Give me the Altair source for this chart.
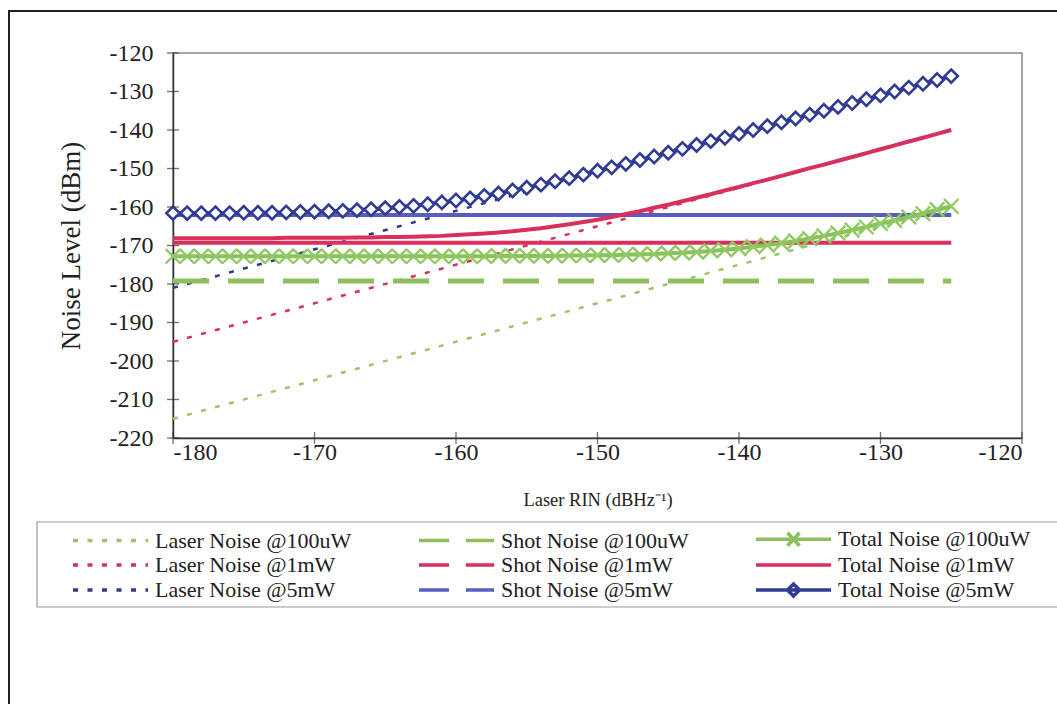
import altair as alt
import pandas as pd

# Laser RIN sweep (dB/Hz) and axis ticks
rin = list(range(-180, -124))
x_ticks = [-180, -170, -160, -150, -140, -130, -120]
y_ticks = [-220, -210, -200, -190, -180, -170, -160, -150, -140, -130, -120]

# Laser noise (straight lines, end points)
laser_rin = [-180, -125]
laser_100uw = [-215.0, -160.0]
laser_1mw = [-195.0, -140.0]
laser_5mw = [-181.0, -126.0]

# Shot noise (flat lines)
shot_rin = [-180, -125]
shot_100uw = [-179.2, -179.2]
shot_1mw = [-169.3, -169.3]
shot_5mw = [-162.1, -162.1]

# Total noise, one value per 1 dB of RIN
total_100uw = [
    -172.8, -172.8, -172.8, -172.8, -172.8, -172.8, -172.8, -172.8,
    -172.8, -172.8, -172.8, -172.8, -172.8, -172.8, -172.8, -172.8,
    -172.8, -172.8, -172.8, -172.8, -172.8, -172.8, -172.8, -172.7,
    -172.7, -172.7, -172.7, -172.7, -172.6, -172.6, -172.5, -172.5,
    -172.4, -172.3, -172.2, -172.0, -171.9, -171.7, -171.4, -171.1,
    -170.8, -170.3, -169.9, -169.4, -168.8, -168.2, -167.5, -166.8,
    -166.0, -165.2, -164.3, -163.5, -162.6, -161.7, -160.7, -159.8,
]
total_1mw = [
    -168.1, -168.1, -168.1, -168.1, -168.1, -168.1, -168.1, -168.1,
    -168.0, -168.0, -168.0, -168.0, -168.0, -167.9, -167.9, -167.8,
    -167.8, -167.7, -167.6, -167.5, -167.3, -167.1, -166.9, -166.6,
    -166.3, -165.9, -165.5, -165.0, -164.5, -163.9, -163.3, -162.6,
    -161.8, -161.1, -160.2, -159.4, -158.5, -157.6, -156.7, -155.7,
    -154.8, -153.8, -152.9, -151.9, -150.9, -149.9, -149.0, -148.0,
    -147.0, -146.0, -145.0, -144.0, -143.0, -142.0, -141.0, -140.0,
]
total_5mw = [
    -161.6, -161.6, -161.6, -161.6, -161.6, -161.5, -161.5, -161.5,
    -161.4, -161.3, -161.2, -161.1, -161.0, -160.8, -160.6, -160.3,
    -160.0, -159.7, -159.3, -158.8, -158.3, -157.8, -157.1, -156.5,
    -155.7, -155.0, -154.2, -153.3, -152.5, -151.6, -150.6, -149.7,
    -148.8, -147.8, -146.9, -145.9, -144.9, -143.9, -142.9, -142.0,
    -141.0, -140.0, -139.0, -138.0, -137.0, -136.0, -135.0, -134.0,
    -133.0, -132.0, -131.0, -130.0, -129.0, -128.0, -127.0, -126.0,
]

# Legend order (filled column by column: laser, shot, total)
series = [
    "Laser Noise @100uW", "Laser Noise @1mW", "Laser Noise @5mW",
    "Shot Noise @100uW", "Shot Noise @1mW", "Shot Noise @5mW",
    "Total Noise @100uW", "Total Noise @1mW", "Total Noise @5mW",
]
GREEN_DOT, GREEN = "#9CC46C", "#8DBF5C"
RED = "#D92F5C"
BLUE_DOT, BLUE_SHOT, BLUE_TOTAL = "#2E3A8E", "#5A5DC0", "#303C94"
colors = [GREEN_DOT, RED, BLUE_DOT, GREEN, RED, BLUE_SHOT, GREEN, RED, BLUE_TOTAL]
DOT, DASH, SOLID = [5, 9.5], [30, 17], [1, 0]
dashes = [DOT] * 3 + [DASH] * 3 + [SOLID] * 3

LINE = "M-14,0L1,0"
LINE_X = LINE + "M-7.7,-1.3L-5.3,1.3M-7.7,1.3L-5.3,-1.3"
LINE_D = LINE + "M-6.5,-1.2L-5.3,0L-6.5,1.2L-7.7,0Z"
legend_shapes = [LINE] * 6 + [LINE_X, LINE, LINE_D]

rows = []
for name, xs, ys in [
    ("Laser Noise @100uW", laser_rin, laser_100uw),
    ("Laser Noise @1mW", laser_rin, laser_1mw),
    ("Laser Noise @5mW", laser_rin, laser_5mw),
    ("Shot Noise @100uW", shot_rin, shot_100uw),
    ("Shot Noise @1mW", shot_rin, shot_1mw),
    ("Shot Noise @5mW", shot_rin, shot_5mw),
    ("Total Noise @100uW", rin, total_100uw),
    ("Total Noise @1mW", rin, total_1mw),
    ("Total Noise @5mW", rin, total_5mw),
]:
    for xv, yv in zip(xs, ys):
        rows.append({"series": name, "kind": name.split()[0], "rin": xv, "level": yv})
df = pd.DataFrame(rows)

FONT = "Liberation Serif"
W, H = 849, 385

xscale = alt.Scale(domain=[-180, -120], nice=False, zero=False)
yscale = alt.Scale(domain=[-220, -120], nice=False, zero=False)
common_axis = dict(
    grid=False, tickSize=0, labelExpr="toString(datum.value)",
    labelFont=FONT, labelFontSize=24, labelColor="#222",
    titleFont=FONT, titleFontWeight="normal", titleColor="#222",
    domainColor="#333", domainWidth=1.5,
)
xaxis = alt.Axis(values=x_ticks, labelPadding=2, titleFontSize=18.5,
                 titlePadding=26, **common_axis)
yaxis = alt.Axis(values=y_ticks, labelPadding=20, titleFontSize=27,
                 titlePadding=24, **common_axis)
X = alt.X("rin:Q", scale=xscale, axis=xaxis, title="Laser RIN (dBHz⁻¹)")
Y = alt.Y("level:Q", scale=yscale, axis=yaxis, title="Noise Level (dBm)")

color = alt.Color("series:N", scale=alt.Scale(domain=series, range=colors), title=None)
dash = alt.StrokeDash("series:N", scale=alt.Scale(domain=series, range=dashes), title=None)
shape = alt.Shape("series:N", scale=alt.Scale(domain=series, range=legend_shapes), title=None)

base = alt.Chart(df)
one = alt.Chart(pd.DataFrame({"k": [0]}))

frame = one.mark_rect(fillOpacity=0, stroke="#222", strokeWidth=2).encode(
    x=alt.value(-164), x2=alt.value(W + 80), y=alt.value(-42), y2=alt.value(H + 330))
legend_box = one.mark_rect(fillOpacity=0, stroke="#999", strokeWidth=1.2).encode(
    x=alt.value(-136), x2=alt.value(W + 80), y=alt.value(469), y2=alt.value(554))

laser = base.transform_filter("datum.kind == 'Laser'").mark_line(strokeWidth=2.5).encode(
    x=X, y=Y, color=color, strokeDash=dash)
shot_dashed = base.transform_filter("datum.series == 'Shot Noise @100uW'").mark_line(
    strokeWidth=5, strokeDash=[36, 19]).encode(x=X, y=Y, color=color)
shot_solid = base.transform_filter(
    "datum.kind == 'Shot' && datum.series != 'Shot Noise @100uW'").mark_line(
    strokeWidth=4).encode(x=X, y=Y, color=color)
total = base.transform_filter("datum.kind == 'Total'").mark_line(strokeWidth=4).encode(
    x=X, y=Y, color=color)

x_marks = base.transform_filter("datum.series == 'Total Noise @100uW'").mark_point(
    shape="M-1,-1L1,1M-1,1L1,-1", filled=False, stroke="#8FCB62", strokeWidth=2.4,
    size=210, opacity=1).encode(x=X, y=Y)
d_marks = base.transform_filter("datum.series == 'Total Noise @5mW'").mark_point(
    shape="diamond", filled=True, fill="white", stroke=BLUE_TOTAL, strokeWidth=2.6,
    size=175, opacity=1).encode(x=X, y=Y)

# Carries the combined legend (no marks drawn)
legend_layer = base.transform_filter("false").mark_point(
    filled=False, strokeWidth=3, opacity=1).encode(
    color=color, strokeDash=dash, shape=shape)

y_tick_marks = alt.Chart(pd.DataFrame({"level": y_ticks})).mark_tick(
    orient="horizontal", size=12, thickness=1.3, color="#333").encode(y=Y, x=alt.value(0))
x_tick_marks = alt.Chart(pd.DataFrame({"rin": x_ticks})).mark_tick(
    orient="vertical", size=12, thickness=1.3, color="#333").encode(x=X, y=alt.value(H))

chart = alt.layer(
    frame, legend_box, laser, shot_dashed, shot_solid, total, x_marks, d_marks,
    legend_layer, y_tick_marks, x_tick_marks,
).properties(
    width=W, height=H,
    autosize=alt.AutoSizeParams(type="none"),
    padding={"left": 173, "top": 53, "right": 35, "bottom": 266},
    background="white",
).configure_view(
    stroke="#888", strokeWidth=1.5,
).configure_legend(
    orient="none", legendX=-41, legendY=475, columns=3, padding=0,
    symbolSize=100, symbolStrokeWidth=3.5, symbolOpacity=1, labelFont=FONT,
    labelFontSize=22, labelColor="#222", labelOffset=1, labelLimit=0,
    columnPadding=60, rowPadding=1, symbolFillColor="white",
)

chart.save("out.html", embed_options={"renderer": "svg", "actions": False})
